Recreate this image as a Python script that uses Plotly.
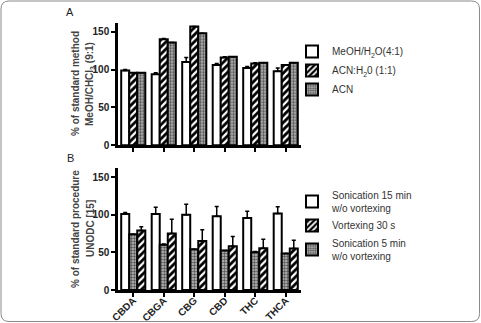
import plotly.graph_objects as go
from plotly.subplots import make_subplots

categories = ["CBDA", "CBGA", "CBG", "CBD", "THC", "THCA"]

# Panel A
a_names = ["MeOH/H<sub>2</sub>O(4:1)", "ACN:H<sub>2</sub>0 (1:1)", "ACN"]
a_meoh = [99, 94, 110, 106, 102, 98]
a_meoh_err = [1, 2, 6, 2, 2, 4]
a_acnh2o = [96, 140, 157, 116, 108, 106]
a_acnh2o_err = [0, 1, 0, 1, 1, 0]
a_acn = [96, 136, 148, 117, 109, 109]
a_acn_err = [0, 0, 0, 0, 0, 0]

# Panel B
b_names = ["Sonication 15 min<br>w/o vortexing", "Vortexing 30 s", "Sonication 5 min<br>w/o vortexing"]
b_son15 = [101, 101, 100, 98, 95.5, 101.5]
b_son15_err = [2, 9, 14, 13, 9, 9]
b_vort30 = [79, 75, 65, 58, 55.5, 55]
b_vort30_err = [5, 19, 15, 13, 12, 11]
b_son5 = [74, 60, 54, 52.5, 50, 48.5]
b_son5_err = [0, 1, 0, 0, 1, 0]

W, H = 481, 323
ML, MR, MT, MB = 118, 180, 22, 33
PW, PH = W - ML - MR, H - MT - MB

def px(x):
    return (x - ML) / PW

def py(y):
    return 1 - (y - MT) / PH

FONT = "Liberation Sans, Arial, sans-serif"

white_style = dict(color="white", line=dict(color="black", width=2))
stripe_style = dict(color="black", line=dict(color="black", width=2),
                    pattern=dict(shape="/", fgcolor="white", bgcolor="black", size=5, solidity=0.45, fillmode="replace"))
dot_style = dict(color="#999999", line=dict(color="black", width=2),
                 pattern=dict(shape=".", fgcolor="#555555", bgcolor="#bdbdbd", size=3, solidity=0.5, fillmode="replace"))

def err(arr):
    return dict(type="data", array=arr, arrayminus=[0] * len(arr), symmetric=False,
                color="black", thickness=1.5, width=2)

fig = make_subplots(rows=2, cols=1, vertical_spacing=0.0)

fig.add_trace(go.Bar(x=categories, y=a_meoh, name=a_names[0], marker=white_style,
                     error_y=err(a_meoh_err), legend="legend"), row=1, col=1)
fig.add_trace(go.Bar(x=categories, y=a_acnh2o, name=a_names[1], marker=stripe_style,
                     error_y=err(a_acnh2o_err), legend="legend"), row=1, col=1)
fig.add_trace(go.Bar(x=categories, y=a_acn, name=a_names[2], marker=dot_style,
                     error_y=err(a_acn_err), legend="legend"), row=1, col=1)

fig.add_trace(go.Bar(x=categories, y=b_son15, name=b_names[0], marker=white_style,
                     error_y=err(b_son15_err), legend="legend2", legendrank=1), row=2, col=1)
fig.add_trace(go.Bar(x=categories, y=b_son5, name=b_names[2], marker=dot_style,
                     error_y=err(b_son5_err), legend="legend2", legendrank=3), row=2, col=1)
fig.add_trace(go.Bar(x=categories, y=b_vort30, name=b_names[1], marker=stripe_style,
                     error_y=err(b_vort30_err), legend="legend2", legendrank=2), row=2, col=1)

tick_font = dict(family=FONT, size=10, color="#222", weight="bold")
axis_common = dict(showline=True, linecolor="black", linewidth=2.5, ticks="outside",
                   ticklen=4, tickwidth=2, tickcolor="black", showgrid=False, zeroline=False,
                   tickfont=tick_font)

fig.update_yaxes(range=[0, 162], tickvals=[0, 50, 100, 150], **axis_common)
fig.update_xaxes(range=[-0.5, 5.5], **axis_common)
fig.update_xaxes(showticklabels=False, row=1, col=1)
fig.update_xaxes(tickangle=-45, ticklabelstandoff=-6, row=2, col=1)

fig.update_layout(
    xaxis=dict(domain=[0, 1], anchor="y"),
    yaxis=dict(domain=[py(145.3), py(22.7)], anchor="x"),
    xaxis2=dict(domain=[0, 1], anchor="y2"),
    yaxis2=dict(domain=[py(290), py(168)], anchor="x2"),
)

fig.update_layout(
    width=W, height=H,
    margin=dict(l=ML, r=MR, t=MT, b=MB, autoexpand=False),
    paper_bgcolor="white", plot_bgcolor="white",
    barmode="group", bargap=0.21, bargroupgap=0,
    font=dict(family=FONT, size=10, color="#222"),
    showlegend=True,
    legend=dict(x=px(292), y=py(37), xanchor="left", yanchor="top",
                font=dict(family=FONT, size=10, color="#333"), bgcolor="rgba(0,0,0,0)",
                tracegroupgap=0),
    legend2=dict(x=px(292), y=py(182), xanchor="left", yanchor="top",
                 font=dict(family=FONT, size=10, color="#333"), bgcolor="rgba(0,0,0,0)",
                 traceorder="normal", tracegroupgap=0),
)

title_font = dict(family=FONT, size=10, color="#444", weight="bold")
annotations = [
    dict(text="A", x=px(70), y=py(12), font=dict(family=FONT, size=11, color="#222")),
    dict(text="B", x=px(70), y=py(158), font=dict(family=FONT, size=11, color="#222")),
    dict(text="% of standard method", x=px(75), y=py(84), textangle=-90, font=title_font),
    dict(text="MeOH/CHCl<sub>3</sub> (9:1)", x=px(90), y=py(84), textangle=-90, font=title_font),
    dict(text="% of standard procedure", x=px(75), y=py(229), textangle=-90, font=title_font),
    dict(text="UNODC [15]", x=px(90), y=py(229), textangle=-90, font=title_font),
]
for a in annotations:
    a.update(xref="paper", yref="paper", xanchor="center", yanchor="middle", showarrow=False)
fig.update_layout(annotations=annotations)

# rounded frame around the figure
x0, x1, y0, y1, r = 1, 479.5, 1, 321.5, 8
path = (f"M {px(x0 + r)},{py(y0)} L {px(x1 - r)},{py(y0)} Q {px(x1)},{py(y0)} {px(x1)},{py(y0 + r)} "
        f"L {px(x1)},{py(y1 - r)} Q {px(x1)},{py(y1)} {px(x1 - r)},{py(y1)} "
        f"L {px(x0 + r)},{py(y1)} Q {px(x0)},{py(y1)} {px(x0)},{py(y1 - r)} "
        f"L {px(x0)},{py(y0 + r)} Q {px(x0)},{py(y0)} {px(x0 + r)},{py(y0)} Z")
fig.add_shape(type="path", path=path, xref="paper", yref="paper",
              line=dict(color="#8a8a8a", width=1), layer="above")

fig.write_html("out.html")
